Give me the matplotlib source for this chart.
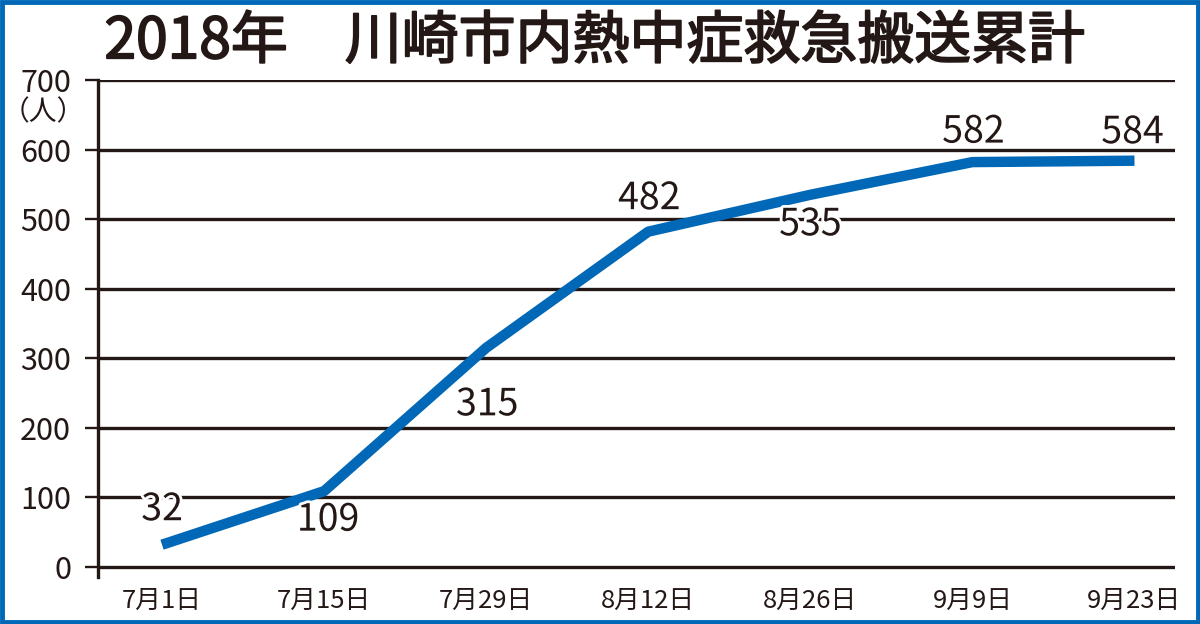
import matplotlib
matplotlib.use("Agg")
import matplotlib.pyplot as plt
import matplotlib.patheffects as pe
from matplotlib.patches import Rectangle

plt.rcParams['font.family'] = ['Noto Sans CJK JP', 'DejaVu Sans']

# データ
dates = ['7月1日', '7月15日', '7月29日', '8月12日', '8月26日', '9月9日', '9月23日']
counts = [32, 109, 315, 482, 535, 582, 584]
yticks = [0, 100, 200, 300, 400, 500, 600, 700]
# ラベルの位置ずらし (pixels)
label_offsets = [(0, 35), (4, -29), (1, -57), (1, 33), (0, -30), (1, 30), (-2, 28)]

ink = '#231815'
blue = '#0068b7'

fig = plt.figure(figsize=(12, 6.24), dpi=100)
ax = fig.add_axes([98 / 1200, 1 - 577 / 624, 1077 / 1200, 497 / 624])

xs = list(range(len(dates)))
ax.set_xlim(-0.395, 6.25)
ax.set_ylim(-14.4, 700)

# 横線
for v in yticks:
    ax.axhline(v, color=ink, lw=2.4, zorder=1)

ax.plot(xs, counts, color=blue, lw=7.5, solid_capstyle='butt', zorder=3)

for x, y, (dx, dy) in zip(xs, counts, label_offsets):
    ax.annotate(str(y), (x, y), xytext=(dx, dy), textcoords='offset pixels',
                ha='center', va='center', fontsize=27, color=ink, zorder=4,
                path_effects=[pe.withStroke(linewidth=4, foreground='white')])

for s in ['top', 'right', 'bottom']:
    ax.spines[s].set_visible(False)
ax.spines['left'].set_color(ink)
ax.spines['left'].set_linewidth(2.4)

ax.set_yticks(yticks)
ax.set_yticklabels([str(v) for v in yticks])
ax.tick_params(axis='y', length=9.4, width=1.7, color=ink, pad=10,
               labelsize=22, labelcolor=ink)
ax.set_xticks(xs)
ax.set_xticklabels(dates)
ax.tick_params(axis='x', length=0, pad=8, labelsize=18.5, labelcolor=ink)

fig.text(43 / 1200, 1 - 112 / 624, '（人）', ha='center', va='center',
         fontsize=20, color=ink)
fig.text(0.496, 1 - 42 / 624, '2018年\u3000川崎市内熱中症救急搬送累計',
         ha='center', va='center', fontsize=41, fontweight='normal', color=ink,
         path_effects=[pe.withStroke(linewidth=1.3, foreground=ink)])

# 外枠
fig.patches.append(Rectangle((0.0015, 0.0025), 0.997, 0.995, transform=fig.transFigure,
                             fill=False, edgecolor=blue, lw=3.5))

fig.savefig('out.png', dpi=100, facecolor='white')
